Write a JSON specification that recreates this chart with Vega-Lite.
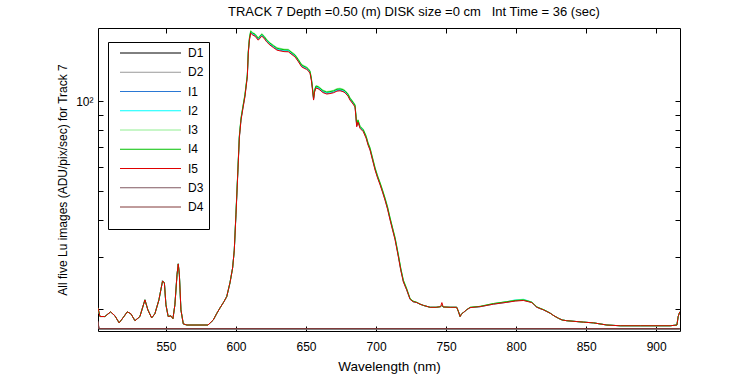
{
  "$schema": "https://vega.github.io/schema/vega-lite/v6.json",
  "width": 582,
  "height": 303,
  "autosize": "none",
  "padding": {"left": 98, "top": 28, "right": 70, "bottom": 44},
  "background": "white",
  "config": {
    "font": "Liberation Sans",
    "view": {"stroke": "black", "strokeWidth": 1},
    "axis": {"domain": false, "grid": false, "labelFont": "Liberation Sans", "labelFontSize": 12, "labelColor": "black", "tickColor": "black", "titleFont": "Liberation Sans", "titleFontSize": 12, "titleFontWeight": "normal", "titleColor": "black", "labelOverlap": false, "labelFlush": false}
  },
  "title": {"text": "TRACK 7 Depth =0.50 (m) DISK size =0 cm\u00a0\u00a0 Int Time = 36 (sec)", "fontSize": 13, "fontWeight": "normal", "color": "black", "font": "Liberation Sans", "anchor": "start", "frame": "group", "dx": 130, "offset": 9},
  "datasets": {
    "lu": [
      {"wl":501.5,"I1":20.2,"I2":20.2,"I3":20.2,"I4":20.2,"I5":20.2},
      {"wl":502.9,"I1":18.9,"I2":18.9,"I3":18.9,"I4":18.9,"I5":18.9},
      {"wl":506.4,"I1":18.9,"I2":18.9,"I3":18.9,"I4":18.9,"I5":18.9},
      {"wl":510.5,"I1":19.6,"I2":19.6,"I3":19.6,"I4":19.6,"I5":19.6},
      {"wl":513.6,"I1":19.0,"I2":19.0,"I3":19.0,"I4":19.0,"I5":19.0},
      {"wl":516.6,"I1":18.0,"I2":18.0,"I3":18.0,"I4":18.0,"I5":18.0},
      {"wl":519.3,"I1":18.7,"I2":18.7,"I3":18.7,"I4":18.7,"I5":18.7},
      {"wl":522.4,"I1":19.6,"I2":19.6,"I3":19.6,"I4":19.6,"I5":19.6},
      {"wl":525.0,"I1":19.3,"I2":19.3,"I3":19.3,"I4":19.3,"I5":19.3},
      {"wl":527.9,"I1":18.3,"I2":18.3,"I3":18.3,"I4":18.3,"I5":18.3},
      {"wl":531.4,"I1":18.9,"I2":18.9,"I3":18.9,"I4":18.9,"I5":18.9},
      {"wl":535.0,"I1":21.5,"I2":21.5,"I3":21.5,"I4":21.5,"I5":21.5},
      {"wl":537.1,"I1":19.9,"I2":19.9,"I3":19.9,"I4":19.9,"I5":19.9},
      {"wl":539.8,"I1":18.7,"I2":18.7,"I3":18.7,"I4":18.7,"I5":18.7},
      {"wl":542.1,"I1":19.3,"I2":19.3,"I3":19.3,"I4":19.3,"I5":19.3},
      {"wl":545.0,"I1":21.5,"I2":21.5,"I3":21.5,"I4":21.5,"I5":21.5},
      {"wl":547.6,"I1":24.9,"I2":24.9,"I3":24.9,"I4":24.9,"I5":24.9},
      {"wl":548.9,"I1":24.5,"I2":24.5,"I3":24.5,"I4":24.5,"I5":24.5},
      {"wl":550.0,"I1":20.7,"I2":20.7,"I3":20.7,"I4":20.7,"I5":20.7},
      {"wl":551.6,"I1":18.9,"I2":18.9,"I3":18.9,"I4":18.9,"I5":18.9},
      {"wl":553.6,"I1":19.0,"I2":19.0,"I3":19.0,"I4":19.0,"I5":19.0},
      {"wl":555.0,"I1":18.6,"I2":18.6,"I3":18.6,"I4":18.6,"I5":18.6},
      {"wl":556.4,"I1":20.7,"I2":20.7,"I3":20.7,"I4":20.7,"I5":20.7},
      {"wl":557.9,"I1":26.1,"I2":26.1,"I3":26.1,"I4":26.1,"I5":26.1},
      {"wl":558.8,"I1":28.4,"I2":28.4,"I3":28.4,"I4":28.4,"I5":28.4},
      {"wl":559.6,"I1":26.1,"I2":26.1,"I3":26.1,"I4":26.1,"I5":26.1},
      {"wl":560.7,"I1":19.9,"I2":19.9,"I3":19.9,"I4":19.9,"I5":19.9},
      {"wl":562.4,"I1":17.85,"I2":17.85,"I3":17.85,"I4":17.85,"I5":17.85},
      {"wl":565.0,"I1":17.7,"I2":17.7,"I3":17.7,"I4":17.7,"I5":17.7},
      {"wl":580.0,"I1":17.7,"I2":17.7,"I3":17.7,"I4":17.7,"I5":17.7},
      {"wl":583.8,"I1":18.4,"I2":18.4,"I3":18.4,"I4":18.4,"I5":18.4},
      {"wl":586.4,"I1":19.4,"I2":19.4,"I3":19.4,"I4":19.4,"I5":19.4},
      {"wl":588.6,"I1":20.2,"I2":20.2,"I3":20.2,"I4":20.2,"I5":20.2},
      {"wl":591.4,"I1":21.2,"I2":21.2,"I3":21.2,"I4":21.2,"I5":21.2},
      {"wl":593.4,"I1":22.05,"I2":22.05,"I3":22.05,"I4":22.05,"I5":22.05},
      {"wl":595.7,"I1":24.5,"I2":24.5,"I3":24.5,"I4":24.5,"I5":24.5},
      {"wl":597.6,"I1":27.5,"I2":27.5,"I3":27.5,"I4":27.5,"I5":27.5},
      {"wl":598.8,"I1":31.6,"I2":31.6,"I3":31.6,"I4":31.6,"I5":31.6},
      {"wl":600.0,"I1":41.7,"I2":41.9,"I3":42.3,"I4":42.1,"I5":41.5},
      {"wl":601.1,"I1":54.6,"I2":54.8,"I3":55.4,"I4":55.1,"I5":54.3},
      {"wl":602.4,"I1":75.5,"I2":75.9,"I3":76.6,"I4":76.2,"I5":75.1},
      {"wl":603.6,"I1":86.7,"I2":87.2,"I3":88.0,"I4":87.6,"I5":86.3},
      {"wl":605.0,"I1":95.2,"I2":95.6,"I3":96.6,"I4":96.1,"I5":94.7},
      {"wl":606.4,"I1":103.9,"I2":104.4,"I3":105.5,"I4":105.0,"I5":103.4},
      {"wl":608.1,"I1":121.2,"I2":121.8,"I3":123.0,"I4":122.4,"I5":120.6},
      {"wl":608.8,"I1":145.6,"I2":146.3,"I3":147.8,"I4":147.1,"I5":144.9},
      {"wl":609.6,"I1":161.0,"I2":161.8,"I3":163.4,"I4":162.6,"I5":160.2},
      {"wl":610.5,"I1":169.9,"I2":170.8,"I3":172.5,"I4":171.6,"I5":169.1},
      {"wl":612.1,"I1":167.3,"I2":168.2,"I3":169.8,"I4":169.0,"I5":166.5},
      {"wl":613.6,"I1":166.0,"I2":166.9,"I3":168.5,"I4":167.7,"I5":165.2},
      {"wl":615.9,"I1":161.0,"I2":161.8,"I3":163.4,"I4":162.6,"I5":160.2},
      {"wl":618.4,"I1":166.0,"I2":166.9,"I3":168.5,"I4":167.7,"I5":165.2},
      {"wl":620.0,"I1":163.5,"I2":164.3,"I3":166.0,"I4":165.1,"I5":162.7},
      {"wl":621.9,"I1":158.9,"I2":159.7,"I3":161.3,"I4":160.5,"I5":158.1},
      {"wl":624.3,"I1":155.0,"I2":155.7,"I3":157.3,"I4":156.5,"I5":154.2},
      {"wl":626.6,"I1":152.2,"I2":152.9,"I3":154.4,"I4":153.7,"I5":151.4},
      {"wl":629.3,"I1":149.0,"I2":149.8,"I3":151.3,"I4":150.5,"I5":148.3},
      {"wl":631.4,"I1":148.2,"I2":149.0,"I3":150.5,"I4":149.7,"I5":147.5},
      {"wl":634.3,"I1":147.3,"I2":148.1,"I3":149.5,"I4":148.8,"I5":146.6},
      {"wl":637.4,"I1":147.1,"I2":147.9,"I3":149.3,"I4":148.6,"I5":146.4},
      {"wl":640.0,"I1":143.9,"I2":144.6,"I3":146.1,"I4":145.3,"I5":143.2},
      {"wl":642.1,"I1":141.5,"I2":142.2,"I3":143.6,"I4":142.9,"I5":140.8},
      {"wl":644.3,"I1":136.9,"I2":137.6,"I3":138.9,"I4":138.2,"I5":136.2},
      {"wl":646.9,"I1":131.0,"I2":131.6,"I3":132.9,"I4":132.3,"I5":130.3},
      {"wl":648.6,"I1":129.6,"I2":130.3,"I3":131.6,"I4":130.9,"I5":129.0},
      {"wl":650.5,"I1":128.3,"I2":129.0,"I3":130.3,"I4":129.6,"I5":127.7},
      {"wl":651.8,"I1":126.7,"I2":127.4,"I3":128.6,"I4":128.0,"I5":126.1},
      {"wl":652.9,"I1":124.4,"I2":125.0,"I3":126.3,"I4":125.7,"I5":123.8},
      {"wl":653.8,"I1":118.2,"I2":118.8,"I3":120.0,"I4":119.4,"I5":117.6},
      {"wl":654.5,"I1":111.2,"I2":111.7,"I3":112.8,"I4":112.3,"I5":110.6},
      {"wl":655.4,"I1":101.3,"I2":101.8,"I3":102.8,"I4":102.3,"I5":100.8},
      {"wl":656.1,"I1":107.7,"I2":108.3,"I3":109.3,"I4":108.8,"I5":107.2},
      {"wl":657.1,"I1":111.2,"I2":111.7,"I3":112.8,"I4":112.3,"I5":110.6},
      {"wl":658.6,"I1":110.7,"I2":111.2,"I3":112.3,"I4":111.8,"I5":110.1},
      {"wl":660.0,"I1":109.4,"I2":110.0,"I3":111.1,"I4":110.5,"I5":108.9},
      {"wl":662.1,"I1":107.3,"I2":107.9,"I3":108.9,"I4":108.4,"I5":106.8},
      {"wl":664.8,"I1":106.1,"I2":106.7,"I3":107.7,"I4":107.2,"I5":105.6},
      {"wl":667.1,"I1":106.5,"I2":107.1,"I3":108.1,"I4":107.6,"I5":106.0},
      {"wl":669.5,"I1":107.1,"I2":107.7,"I3":108.7,"I4":108.2,"I5":106.6},
      {"wl":672.1,"I1":108.5,"I2":109.1,"I3":110.2,"I4":109.6,"I5":108.0},
      {"wl":674.3,"I1":108.8,"I2":109.4,"I3":110.5,"I4":109.9,"I5":108.3},
      {"wl":676.4,"I1":108.1,"I2":108.7,"I3":109.8,"I4":109.2,"I5":107.6},
      {"wl":677.9,"I1":107.1,"I2":107.7,"I3":108.7,"I4":108.2,"I5":106.6},
      {"wl":680.0,"I1":104.4,"I2":104.9,"I3":106.0,"I4":105.5,"I5":103.9},
      {"wl":681.4,"I1":101.3,"I2":101.8,"I3":102.8,"I4":102.3,"I5":100.8},
      {"wl":683.6,"I1":98.2,"I2":98.7,"I3":99.7,"I4":99.2,"I5":97.7},
      {"wl":685.0,"I1":96.0,"I2":96.5,"I3":97.4,"I4":96.9,"I5":95.5},
      {"wl":685.7,"I1":88.1,"I2":88.6,"I3":89.5,"I4":89.0,"I5":87.7},
      {"wl":686.2,"I1":82.4,"I2":82.8,"I3":83.6,"I4":83.2,"I5":82.0},
      {"wl":687.1,"I1":85.4,"I2":85.9,"I3":86.7,"I4":86.3,"I5":85.0},
      {"wl":688.6,"I1":81.4,"I2":81.8,"I3":82.6,"I4":82.2,"I5":81.0},
      {"wl":690.9,"I1":79.3,"I2":79.7,"I3":80.5,"I4":80.1,"I5":78.9},
      {"wl":692.9,"I1":75.5,"I2":75.9,"I3":76.6,"I4":76.2,"I5":75.1},
      {"wl":694.3,"I1":71.6,"I2":71.9,"I3":72.6,"I4":72.3,"I5":71.2},
      {"wl":695.7,"I1":68.8,"I2":69.2,"I3":69.9,"I4":69.5,"I5":68.5},
      {"wl":697.5,"I1":63.7,"I2":64.0,"I3":64.7,"I4":64.4,"I5":63.4},
      {"wl":699.3,"I1":59.0,"I2":59.3,"I3":59.9,"I4":59.6,"I5":58.7},
      {"wl":701.1,"I1":55.5,"I2":55.8,"I3":56.3,"I4":56.0,"I5":55.2},
      {"wl":702.9,"I1":52.6,"I2":52.8,"I3":53.3,"I4":53.1,"I5":52.3},
      {"wl":704.6,"I1":49.7,"I2":50.0,"I3":50.5,"I4":50.2,"I5":49.5},
      {"wl":706.4,"I1":46.7,"I2":47.0,"I3":47.4,"I4":47.2,"I5":46.5},
      {"wl":708.2,"I1":43.6,"I2":43.8,"I3":44.3,"I4":44.1,"I5":43.4},
      {"wl":710.0,"I1":40.1,"I2":40.3,"I3":40.7,"I4":40.5,"I5":39.9},
      {"wl":711.8,"I1":37.1,"I2":37.3,"I3":37.6,"I4":37.5,"I5":36.9},
      {"wl":713.6,"I1":34.4,"I2":34.5,"I3":34.9,"I4":34.7,"I5":34.2},
      {"wl":715.0,"I1":31.8,"I2":31.9,"I3":32.2,"I4":32.1,"I5":31.6},
      {"wl":716.1,"I1":29.8,"I2":30.0,"I3":30.3,"I4":30.1,"I5":29.7},
      {"wl":717.6,"I1":27.2,"I2":27.4,"I3":27.6,"I4":27.5,"I5":27.1},
      {"wl":719.5,"I1":24.8,"I2":24.9,"I3":25.1,"I4":25.0,"I5":24.7},
      {"wl":721.9,"I1":23.2,"I2":23.3,"I3":23.5,"I4":23.4,"I5":23.2},
      {"wl":724.3,"I1":21.6,"I2":21.6,"I3":21.7,"I4":21.7,"I5":21.6},
      {"wl":726.4,"I1":21.2,"I2":21.2,"I3":21.3,"I4":21.3,"I5":21.2},
      {"wl":729.1,"I1":21.05,"I2":21.05,"I3":21.1,"I4":21.1,"I5":21.05},
      {"wl":731.4,"I1":20.8,"I2":20.8,"I3":20.8,"I4":20.8,"I5":20.8},
      {"wl":733.8,"I1":20.6,"I2":20.6,"I3":20.6,"I4":20.6,"I5":20.6},
      {"wl":738.6,"I1":20.3,"I2":20.3,"I3":20.3,"I4":20.3,"I5":20.3},
      {"wl":742.9,"I1":20.3,"I2":20.3,"I3":20.3,"I4":20.3,"I5":20.3},
      {"wl":746.1,"I1":20.4,"I2":20.4,"I3":20.4,"I4":20.4,"I5":20.4},
      {"wl":747.0,"I1":20.6,"I2":20.6,"I3":20.6,"I4":20.6,"I5":21.05},
      {"wl":747.9,"I1":20.35,"I2":20.35,"I3":20.35,"I4":20.35,"I5":20.35},
      {"wl":752.9,"I1":20.3,"I2":20.3,"I3":20.3,"I4":20.3,"I5":20.3},
      {"wl":757.6,"I1":20.3,"I2":20.3,"I3":20.3,"I4":20.3,"I5":20.3},
      {"wl":758.9,"I1":19.6,"I2":19.6,"I3":19.6,"I4":19.6,"I5":19.6},
      {"wl":760.0,"I1":18.9,"I2":18.9,"I3":18.9,"I4":18.9,"I5":18.9},
      {"wl":761.1,"I1":19.3,"I2":19.3,"I3":19.3,"I4":19.3,"I5":19.3},
      {"wl":762.4,"I1":19.5,"I2":19.5,"I3":19.5,"I4":19.5,"I5":19.5},
      {"wl":764.6,"I1":19.9,"I2":19.9,"I3":19.9,"I4":19.9,"I5":19.9},
      {"wl":767.1,"I1":20.25,"I2":20.25,"I3":20.3,"I4":20.3,"I5":20.25},
      {"wl":774.3,"I1":20.4,"I2":20.4,"I3":20.45,"I4":20.45,"I5":20.4},
      {"wl":783.8,"I1":20.8,"I2":20.85,"I3":20.9,"I4":20.9,"I5":20.8},
      {"wl":793.4,"I1":21.1,"I2":21.2,"I3":21.2,"I4":21.2,"I5":21.1},
      {"wl":799.3,"I1":21.35,"I2":21.5,"I3":21.45,"I4":21.4,"I5":21.3},
      {"wl":805.2,"I1":21.45,"I2":21.6,"I3":21.55,"I4":21.5,"I5":21.4},
      {"wl":808.6,"I1":21.25,"I2":21.35,"I3":21.3,"I4":21.3,"I5":21.2},
      {"wl":811.2,"I1":21.1,"I2":21.15,"I3":21.15,"I4":21.1,"I5":21.05},
      {"wl":812.9,"I1":20.7,"I2":20.75,"I3":20.8,"I4":20.75,"I5":20.7},
      {"wl":814.8,"I1":20.3,"I2":20.35,"I3":20.4,"I4":20.35,"I5":20.3},
      {"wl":817.1,"I1":20.1,"I2":20.1,"I3":20.15,"I4":20.15,"I5":20.1},
      {"wl":819.5,"I1":19.9,"I2":19.9,"I3":19.95,"I4":19.95,"I5":19.9},
      {"wl":821.4,"I1":19.7,"I2":19.7,"I3":19.75,"I4":19.75,"I5":19.7},
      {"wl":824.3,"I1":19.4,"I2":19.4,"I3":19.4,"I4":19.4,"I5":19.4},
      {"wl":827.1,"I1":19.0,"I2":19.0,"I3":19.0,"I4":19.0,"I5":19.0},
      {"wl":830.2,"I1":18.65,"I2":18.65,"I3":18.65,"I4":18.65,"I5":18.65},
      {"wl":832.9,"I1":18.4,"I2":18.4,"I3":18.4,"I4":18.4,"I5":18.4},
      {"wl":836.2,"I1":18.3,"I2":18.3,"I3":18.3,"I4":18.3,"I5":18.3},
      {"wl":848.1,"I1":18.1,"I2":18.1,"I3":18.1,"I4":18.1,"I5":18.1},
      {"wl":855.2,"I1":18.0,"I2":18.0,"I3":18.0,"I4":18.0,"I5":18.0},
      {"wl":864.8,"I1":17.7,"I2":17.7,"I3":17.7,"I4":17.7,"I5":17.7},
      {"wl":874.3,"I1":17.6,"I2":17.6,"I3":17.6,"I4":17.6,"I5":17.6},
      {"wl":888.6,"I1":17.6,"I2":17.6,"I3":17.6,"I4":17.6,"I5":17.6},
      {"wl":910.0,"I1":17.6,"I2":17.6,"I3":17.6,"I4":17.6,"I5":17.6},
      {"wl":914.8,"I1":17.7,"I2":17.7,"I3":17.7,"I4":17.7,"I5":17.7},
      {"wl":915.7,"I1":18.9,"I2":18.9,"I3":18.9,"I4":18.9,"I5":18.9},
      {"wl":916.8,"I1":19.6,"I2":19.6,"I3":19.6,"I4":19.6,"I5":19.6}
    ],
    "dark": [
      {"series":"D1","wl":501.5,"value":18.0},
      {"series":"D1","wl":502.2,"value":17.15},
      {"series":"D1","wl":700.0,"value":17.15},
      {"series":"D1","wl":916.8,"value":17.15},
      {"series":"D2","wl":501.5,"value":18.0},
      {"series":"D2","wl":502.2,"value":17.15},
      {"series":"D2","wl":700.0,"value":17.15},
      {"series":"D2","wl":916.8,"value":17.15},
      {"series":"D3","wl":501.5,"value":18.2},
      {"series":"D3","wl":502.2,"value":17.22},
      {"series":"D3","wl":700.0,"value":17.22},
      {"series":"D3","wl":916.8,"value":17.22},
      {"series":"D4","wl":501.5,"value":18.2},
      {"series":"D4","wl":502.2,"value":17.22},
      {"series":"D4","wl":700.0,"value":17.22},
      {"series":"D4","wl":916.8,"value":17.22}
    ]
  },
  "layer": [
    {
      "data": {"name": "lu"},
      "transform": [{"fold": ["I1", "I2", "I3", "I4", "I5"], "as": ["series", "value"]}],
      "mark": {"type": "line", "strokeWidth": 1, "clip": true},
      "encoding": {
        "x": {"field": "wl", "type": "quantitative", "scale": {"domain": [501.5, 917], "nice": false, "zero": false},
              "axis": {"orient": "bottom", "values": [550, 600, 650, 700, 750, 800, 850, 900], "tickSize": -5, "labelPadding": 15, "title": "Wavelength (nm)", "titleFontSize": 13.5, "titlePadding": 7}},
        "y": {"field": "value", "type": "quantitative", "scale": {"type": "log", "domain": [16.9, 176], "nice": false},
              "axis": {"orient": "left", "values": [20, 30, 40, 50, 60, 70, 80, 90, 100], "tickSize": -5, "labelPadding": 10, "labelExpr": "datum.value == 100 ? '10²' : ''", "title": "All five Lu images (ADU/pix/sec) for Track 7", "titlePadding": 6}},
        "color": {"field": "series", "type": "nominal",
                  "scale": {"domain": ["D1", "D2", "I1", "I2", "I3", "I4", "I5", "D3", "D4"], "range": ["#000000", "#999999", "#2a78d4", "#00ffff", "#90ee90", "#00c000", "#e00000", "#805860", "#803838"]},
                  "legend": {"title": "\u00a0", "titleOrient": "bottom", "titleFontSize": 8, "titlePadding": 3, "orient": "none", "legendX": 10, "legendY": 14, "symbolType": "M-6.1,0H6.1", "symbolSize": 100, "symbolOffset": 31.5, "symbolStrokeWidth": 1, "symbolOpacity": 1, "labelFontSize": 12, "labelFont": "Liberation Sans", "labelColor": "black", "strokeColor": "black", "fillColor": "white", "padding": 5, "rowPadding": 7.25, "labelOffset": 31.5}},
        "order": {"field": "series"}
      }
    },
    {
      "data": {"name": "dark"},
      "mark": {"type": "line", "strokeWidth": 1, "clip": true},
      "encoding": {
        "x": {"field": "wl", "type": "quantitative", "axis": {"orient": "top", "values": [550, 600, 650, 700, 750, 800, 850, 900], "tickSize": -5, "labels": false, "title": null}},
        "y": {"field": "value", "type": "quantitative", "axis": {"orient": "right", "values": [20, 30, 40, 50, 60, 70, 80, 90, 100], "tickSize": -5, "labels": false, "title": null}},
        "color": {"field": "series", "type": "nominal"}
      }
    }
  ],
  "resolve": {"axis": {"x": "independent", "y": "independent"}}
}
